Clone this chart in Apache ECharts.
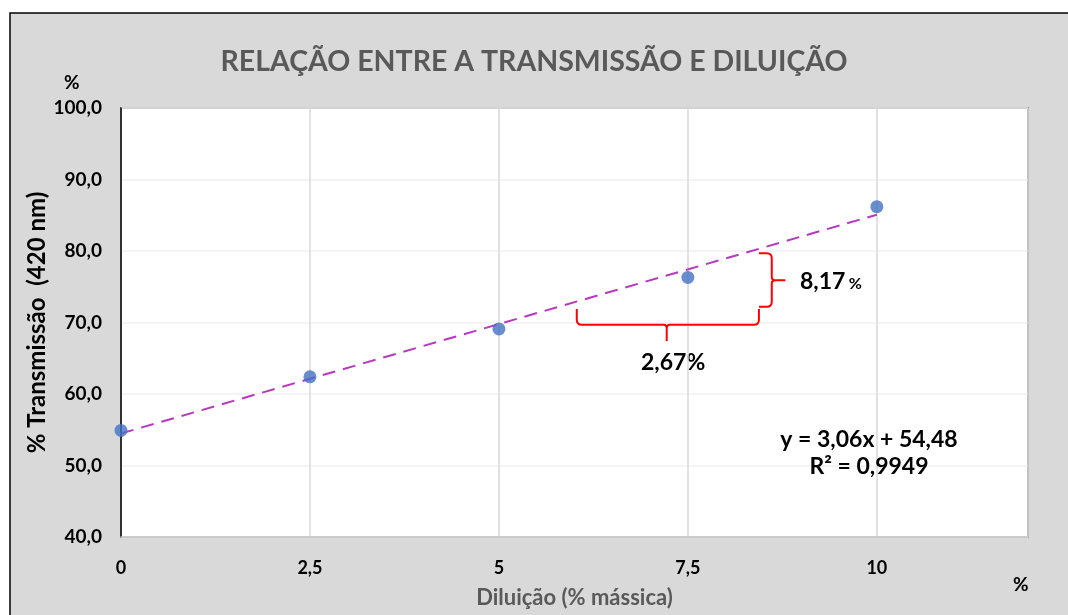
<!DOCTYPE html>
<html>
<head>
<meta charset="utf-8">
<script src="https://cdn.jsdelivr.net/npm/echarts@6/dist/echarts.min.js"></script>
<style>
  html, body { margin: 0; padding: 0; background: #fff; }
  #chart { width: 1068px; height: 615px; }
</style>
</head>
<body>
<div id="chart"></div>
<script>
// Data
const dilution = [0, 2.5, 5, 7.5, 10];
const transmission = [54.9, 62.4, 69.1, 76.3, 86.2];
// Linear trend (Excel): y = 3,06x + 54,48
const trendSlope = 3.06;
const trendIntercept = 54.48;
const trendRange = [0, 10];
// Braces: [x1, y1, x2, y2, baseline, tipX, tipY] in data units
const hBrace = [6.03, 71.9, 8.44, 71.9, 69.7, 7.22, 67.4];
const vBrace = [8.44, 79.7, 8.44, 72.2, 8.61, 8.79, 75.9];

const FONT = 'Lato';
const chart = echarts.init(document.getElementById('chart'));

const trendData = trendRange.map(x => [x, trendSlope * x + trendIntercept]);
const comma = v => String(v).replace('.', ',');

function hBracePath(api, b) {
  const a = api.coord([b[0], b[1]]);
  const c = api.coord([b[2], b[3]]);
  const base = api.coord([b[0], b[4]])[1];
  const tip = api.coord([b[5], b[6]]);
  const r = 5;
  return 'M' + a[0] + ' ' + a[1] +
    ' L' + a[0] + ' ' + (base - r) +
    ' Q' + a[0] + ' ' + base + ' ' + (a[0] + r) + ' ' + base +
    ' L' + (tip[0] - 3) + ' ' + base +
    ' Q' + tip[0] + ' ' + base + ' ' + tip[0] + ' ' + (base + 4) +
    ' L' + tip[0] + ' ' + tip[1] +
    ' M' + tip[0] + ' ' + (base + 4) +
    ' Q' + tip[0] + ' ' + base + ' ' + (tip[0] + 3) + ' ' + base +
    ' L' + (c[0] - r) + ' ' + base +
    ' Q' + c[0] + ' ' + base + ' ' + c[0] + ' ' + (base - r) +
    ' L' + c[0] + ' ' + c[1];
}

function vBracePath(api, b) {
  const a = api.coord([b[0], b[1]]);
  const c = api.coord([b[2], b[3]]);
  const base = api.coord([b[4], b[1]])[0];
  const tip = api.coord([b[5], b[6]]);
  const r = 5;
  return 'M' + a[0] + ' ' + a[1] +
    ' L' + (base - r) + ' ' + a[1] +
    ' Q' + base + ' ' + a[1] + ' ' + base + ' ' + (a[1] + r) +
    ' L' + base + ' ' + (tip[1] - 3) +
    ' Q' + base + ' ' + tip[1] + ' ' + (base + 4) + ' ' + tip[1] +
    ' L' + tip[0] + ' ' + tip[1] +
    ' M' + (base + 4) + ' ' + tip[1] +
    ' Q' + base + ' ' + tip[1] + ' ' + base + ' ' + (tip[1] + 3) +
    ' L' + base + ' ' + (c[1] - r) +
    ' Q' + base + ' ' + c[1] + ' ' + (base - r) + ' ' + c[1] +
    ' L' + c[0] + ' ' + c[1];
}

const option = {
  backgroundColor: '#fff',
  animation: false,
  graphic: [
    { type: 'rect', z: -10, shape: { x: 10, y: 13, width: 1070, height: 620 },
      style: { fill: '#d9d9d9', stroke: '#000', lineWidth: 1.5 } },
    { type: 'text', left: 64, top: 73,
      style: { text: '%', font: 'bold 19px ' + FONT, fill: '#000' } },
    { type: 'text', left: 1013, top: 575,
      style: { text: '%', font: 'bold 19px ' + FONT, fill: '#000' } },
    { type: 'text', left: 800, top: 270,
      style: { text: '{b|8,17} {s|%}', fill: '#000',
        rich: { b: { font: 'bold 23px ' + FONT }, s: { font: 'bold 16px ' + FONT, padding: [4, 0, 0, 0] } } } },
    { type: 'text', left: 641, top: 351,
      style: { text: '2,67%', font: 'bold 23px ' + FONT, fill: '#000' } },
    { type: 'text', x: 869, y: 440, z: 10,
      style: { text: 'y = 3,06x + 54,48', font: 'bold 23px ' + FONT, fill: '#000',
        align: 'center', verticalAlign: 'middle' } },
    { type: 'text', x: 869, y: 467, z: 10,
      style: { text: 'R² = 0,9949', font: 'bold 23px ' + FONT, fill: '#000',
        align: 'center', verticalAlign: 'middle' } }
  ],
  title: {
    text: 'RELAÇÃO ENTRE A TRANSMISSÃO E DILUIÇÃO',
    left: 'center',
    top: 42,
    textStyle: { fontFamily: FONT, fontWeight: 'bold', fontSize: 28.5, color: '#595959' }
  },
  grid: {
    left: 121, top: 108, right: 40, bottom: 78,
    show: true, backgroundColor: '#fff', borderColor: '#595959', borderWidth: 1.5
  },
  xAxis: {
    type: 'value', min: 0, max: 12, interval: 2.5,
    name: 'Diluição (% mássica)', nameLocation: 'middle', nameGap: 50,
    nameTextStyle: { fontFamily: FONT, fontWeight: 'bold', fontSize: 22, color: '#595959' },
    axisLine: { lineStyle: { color: '#c8c8c8', width: 1.5 } },
    axisTick: { show: false },
    axisLabel: {
      margin: 22, fontFamily: FONT, fontWeight: 'bold', fontSize: 18, color: '#000',
      formatter: v => (v % 2.5 === 0 ? comma(v) : '')
    },
    splitLine: { show: true, lineStyle: { color: '#d9d9d9', width: 1.5 } }
  },
  yAxis: {
    type: 'value', min: 40, max: 100, interval: 10,
    name: '% Transmissão  (420 nm)', nameLocation: 'middle', nameGap: 72,
    nameMoveOverlap: false,
    nameTextStyle: { fontFamily: FONT, fontWeight: 'bold', fontSize: 24, color: '#000' },
    axisLine: { show: true, lineStyle: { color: '#000', width: 1.5 } },
    axisTick: { show: false },
    axisLabel: {
      margin: 19, fontFamily: FONT, fontWeight: 'bold', fontSize: 19, color: '#000',
      formatter: v => v.toFixed(1).replace('.', ',')
    },
    splitLine: { show: true, lineStyle: { color: '#f0f0f0', width: 1.5 } }
  },
  series: [
    {
      name: 'Tendência', type: 'line', data: trendData, symbol: 'none', z: 3,
      lineStyle: { color: '#b838c0', width: 2, type: [13, 8] }
    },
    {
      name: 'Transmissão', type: 'scatter', z: 4,
      data: dilution.map((x, i) => [x, transmission[i]]),
      symbolSize: 13, itemStyle: { color: '#4472c4' }
    },
    {
      name: 'Chaves', type: 'custom', z: 5, silent: true,
      data: [hBrace, vBrace],
      renderItem: function(params, api) {
        const b = params.dataIndex === 0 ? hBrace : vBrace;
        const d = params.dataIndex === 0 ? hBracePath(api, b) : vBracePath(api, b);
        return {
          type: 'path',
          shape: { pathData: d },
          style: { fill: 'none', stroke: '#ff0000', lineWidth: 2 }
        };
      }
    }
  ]
};

chart.setOption(option);
</script>
</body>
</html>
